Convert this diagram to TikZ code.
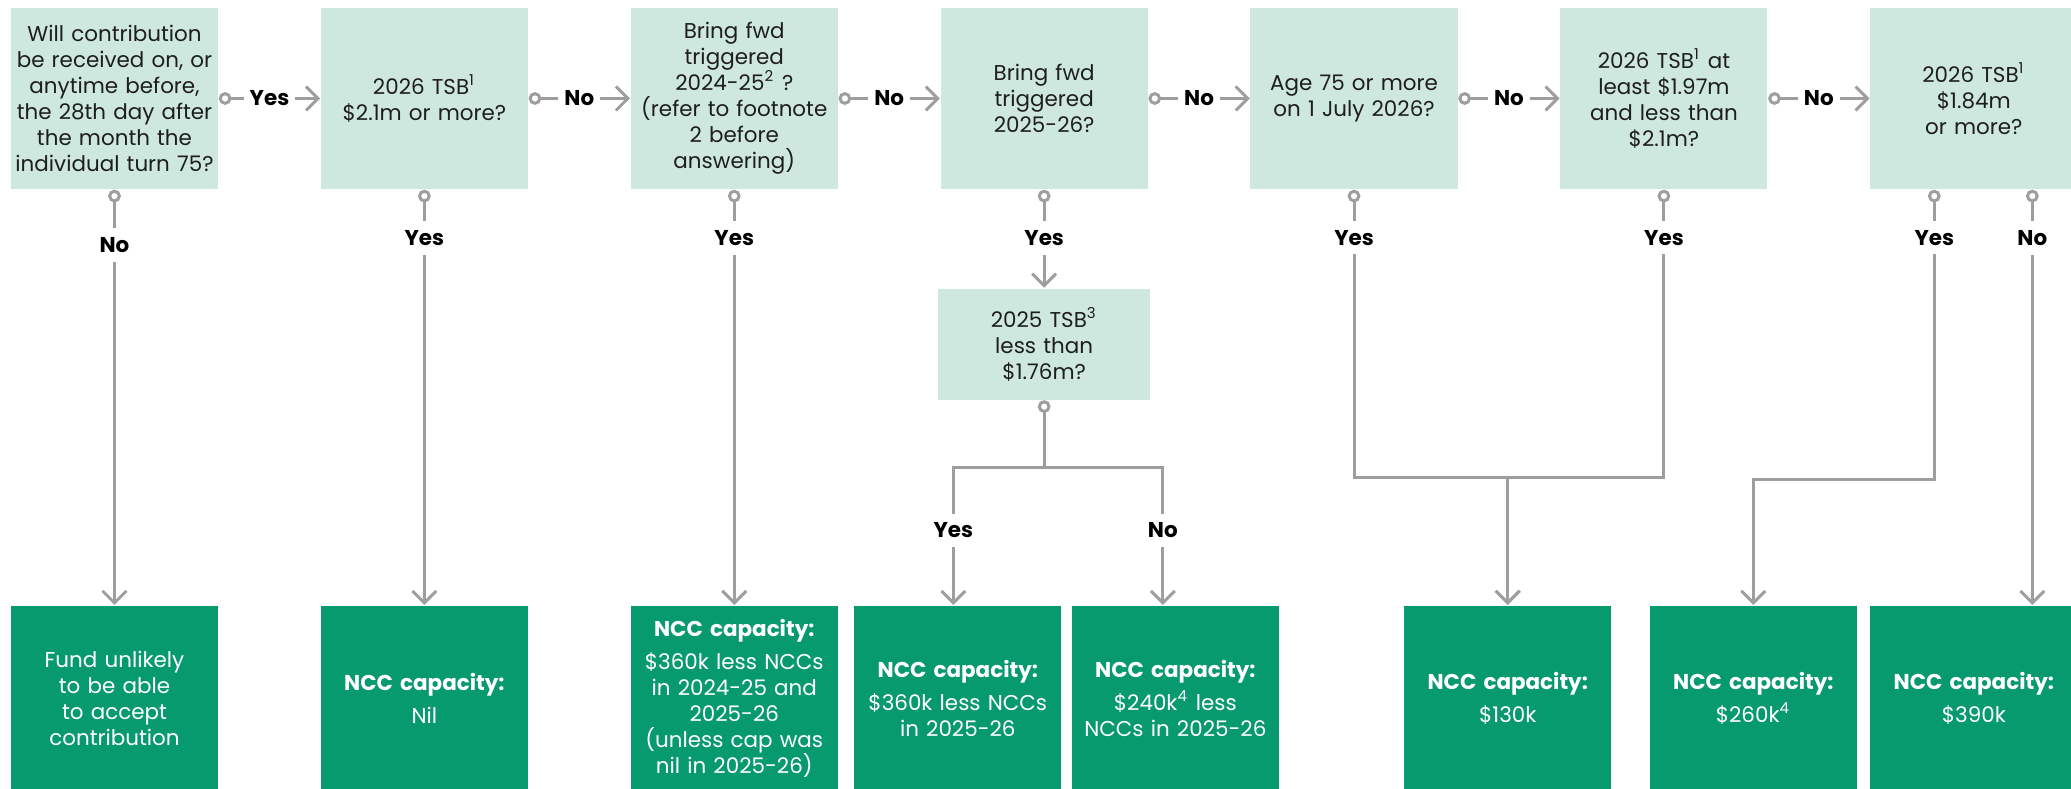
\documentclass[tikz,border=0pt]{standalone}
\usepackage{fontspec}
\setmainfont{Poppins}
\usepackage{xcolor}
\usepackage{tikz}
\usetikzlibrary{arrows.meta, positioning}
\definecolor{mintbox}{HTML}{CEE8E0}
\definecolor{greenbox}{HTML}{079A6F}
\definecolor{linegray}{HTML}{9E9E9E}
\definecolor{darktext}{HTML}{1E1E1E}
\tikzstyle{question} = [rectangle, minimum width=2.07cm, minimum height=1.81cm, text width=2.07cm, inner sep=0pt, align=center, fill=mintbox, text=darktext, font=\fontsize{6.1}{7.4}\selectfont]
\tikzstyle{result} = [rectangle, minimum width=2.07cm, minimum height=1.85cm, text width=2.07cm, inner sep=0pt, align=center, fill=greenbox, text=white, font=\fontsize{6.1}{7.4}\selectfont]
\tikzstyle{choice} = [fill=white, inner xsep=1.7pt, inner ysep=2.6pt, text=black, font=\bfseries\fontsize{6.1}{7.4}\selectfont]
\tikzstyle{link} = [linegray, line width=0.85pt]
\tikzstyle{arrow} = [link, {Circle[open,length=3.6pt,width=3.6pt]}-{Straight Barb[length=3.4pt,width=6.8pt]}]
\tikzstyle{tail} = [link, {Circle[open,length=3.6pt,width=3.6pt]}-]
\tikzstyle{head} = [link, -{Straight Barb[length=3.4pt,width=6.8pt]}]

\begin{document}
\begin{tikzpicture}[x=0.01cm, y=-0.01cm]
\useasboundingbox (0,0) rectangle (2071,789);

% Questions
\node (q1) [question] at (114.5,98.5) {Will contribution\\be received on, or\\anytime before,\\the 28th day after\\the month the\\individual turn 75?};
\node (q2) [question, right=1.013cm of q1] {2026 TSB\textsuperscript{1}\\\$2.1m or more?};
\node (q3) [question, right=1.013cm of q2] {Bring fwd\\triggered\\2024-25\textsuperscript{2} ?\\(refer to footnote\\2 before\\answering)};
\node (q4) [question, right=1.013cm of q3] {Bring fwd\\triggered\\2025-26?};
\node (q5) [question, right=1.013cm of q4] {Age 75 or more\\on 1 July 2026?};
\node (q6) [question, right=1.013cm of q5] {2026 TSB\textsuperscript{1} at\\least \$1.97m\\and less than\\\$2.1m?};
\node (q7) [question, right=1.013cm of q6] {2026 TSB\textsuperscript{1}\\\$1.84m\\or more?};

% Second test
\node (mid) [question, below=0.98cm of q4, minimum width=2.12cm, text width=2.12cm, minimum height=1.11cm] {2025 TSB\textsuperscript{3}\\less than\\\$1.76m?};

% Outcomes
\node (r1) [result, below=4.15cm of q1] {Fund unlikely\\to be able\\to accept\\contribution};
\node (r2) [result, below=4.15cm of q2] {\textbf{NCC capacity:}\\[2pt]Nil};
\node (r3) [result, below=4.15cm of q3] {\textbf{NCC capacity:}\\[2pt]\$360k less NCCs\\in 2024-25 and\\2025-26\\(unless cap was\\nil in 2025-26)};
\node (r4) [result, right=0.15cm of r3] {\textbf{NCC capacity:}\\[2pt]\$360k less NCCs\\in 2025-26};
\node (r5) [result, right=0.09cm of r4] {\textbf{NCC capacity:}\\[2pt]\$240k\textsuperscript{4} less\\NCCs in 2025-26};
\node (r8) [result, below=4.15cm of q7] {\textbf{NCC capacity:}\\[2pt]\$390k};
\node (r7) [result, left=0.12cm of r8] {\textbf{NCC capacity:}\\[2pt]\$260k\textsuperscript{4}};
\node (r6) [result, left=0.37cm of r7] {\textbf{NCC capacity:}\\[2pt]\$130k};

% Join points
\coordinate (split) at (mid.south |- 0,468);
\coordinate (bar6) at (0,478);
\coordinate (bar7) at (0,480);

% Arrows across
\draw [arrow] (q1) -- node[choice] {Yes} (q2);
\draw [arrow] (q2) -- node[choice] {No} (q3);
\draw [arrow] (q3) -- node[choice] {No} (q4);
\draw [arrow] (q4) -- node[choice] {No} (q5);
\draw [arrow] (q5) -- node[choice] {No} (q6);
\draw [arrow] (q6) -- node[choice] {No} (q7);

% Arrows down
\draw [arrow] (q1) -- node[choice, pos=0.133] {No} (r1);
\draw [arrow] (q2) -- node[choice, pos=0.116] {Yes} (r2);
\draw [arrow] (q3) -- node[choice, pos=0.116] {Yes} (r3);
\draw [arrow] (q4) -- node[choice, pos=0.49] {Yes} (mid);
\draw [tail] (mid.south) -- (split);
\draw [head] (split) -| node[choice, pos=0.728] {Yes} ([xshift=-0.045cm]r4.north);
\draw [head] (split) -| node[choice, pos=0.728] {No} ([xshift=-0.125cm]r5.north);
\draw [arrow] (q5.south) -- node[choice, pos=0.166] {Yes} (q5.south |- bar6) -| (r6.north);
\draw [arrow] (q6.south) -- node[choice, pos=0.166] {Yes} (q6.south |- bar6) -| (r6.north);
\draw [arrow] ([xshift=-0.395cm]q7.south) -- node[choice, pos=0.165] {Yes} ([xshift=-0.395cm]q7.south |- bar7) -| (r7.north);
\draw [arrow] ([xshift=0.585cm]q7.south) -- node[choice, pos=0.116] {No} ([xshift=0.585cm]r8.north);

\end{tikzpicture}
\end{document}
